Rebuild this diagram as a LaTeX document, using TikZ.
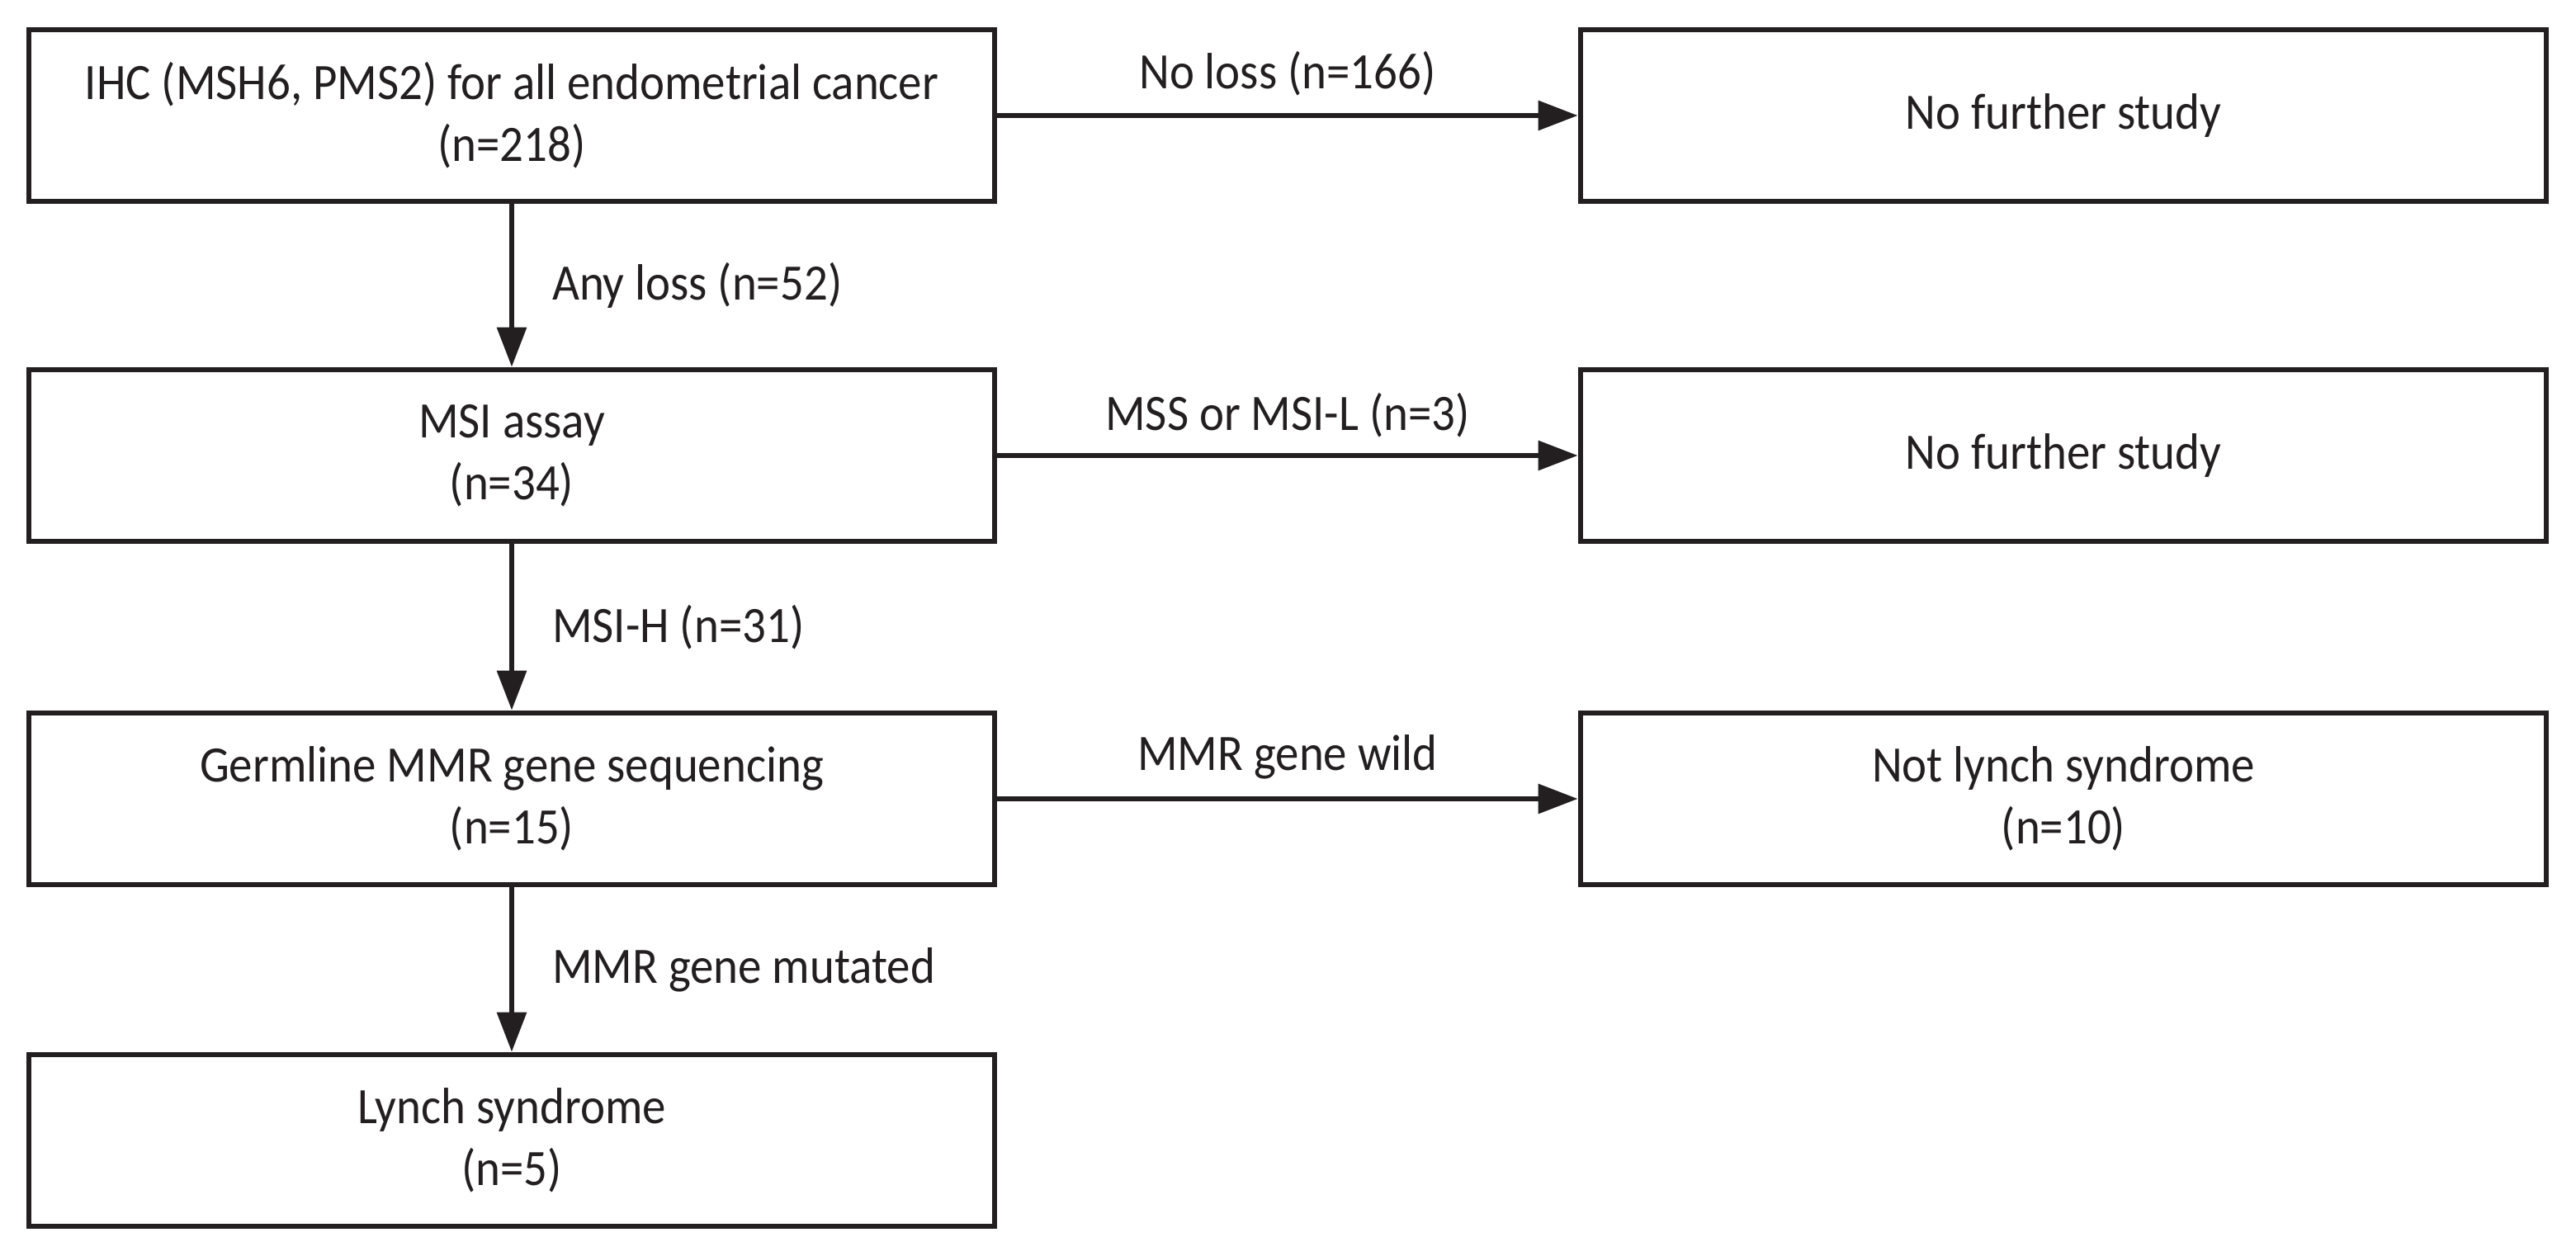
\documentclass[tikz,border=0pt]{standalone}
\usepackage{fontspec}
\setmainfont[FakeStretch=0.92]{Carlito}
\usepackage{xcolor}
\usetikzlibrary{arrows.meta, positioning}
\definecolor{inkdark}{RGB}{35,31,32}

\begin{document}
\begin{tikzpicture}[
    box/.style={draw=inkdark, line width=1.9pt, minimum width=11.7cm,
      minimum height=2.08cm, align=center, text=inkdark, inner sep=0pt,
      font=\fontsize{17.6}{21.3}\selectfont},
    flow/.style={draw=inkdark, line width=1.75pt,
      -{Triangle[length=0.48cm, width=0.35cm]}},
    lbl/.style={text=inkdark, inner sep=0pt,
      font=\fontsize{17.6}{21.3}\selectfont}]
  \useasboundingbox (0,0) rectangle (31.21,-15.22);

  % main chain (left column)
  \node[box] (ihc)    at (6.20,-1.40)  {IHC (MSH6, PMS2) for all endometrial cancer\\(n=218)};
  \node[box] (msi)    at (6.20,-5.52)  {MSI assay\\(n=34)};
  \node[box] (germ)   at (6.20,-9.68)  {Germline MMR gene sequencing\\(n=15)};
  \node[box] (lynch)  at (6.20,-13.82) {Lynch syndrome\\(n=5)};

  % side outcomes (right column)
  \node[box] (stopA)  at (25.00,-1.40) {No further study};
  \node[box] (stopB)  at (25.00,-5.52) {No further study};
  \node[box] (notly)  at (25.00,-9.68) {Not lynch syndrome\\(n=10)};

  % downward arrows
  \draw[flow] (ihc) -- node[lbl, right=0.46cm] {Any loss (n=52)} (msi);
  \draw[flow] (msi) -- node[lbl, right=0.46cm] {MSI-H (n=31)} (germ);
  \draw[flow] (germ) -- node[lbl, right=0.46cm] {MMR gene mutated} (lynch);

  % sideways arrows
  \draw[flow] (ihc) -- node[lbl, yshift=0.51cm] {No loss (n=166)} (stopA);
  \draw[flow] (msi) -- node[lbl, yshift=0.49cm] {MSS or MSI-L (n=3)} (stopB);
  \draw[flow] (germ) -- node[lbl, yshift=0.51cm] {MMR gene wild} (notly);
\end{tikzpicture}
\end{document}
